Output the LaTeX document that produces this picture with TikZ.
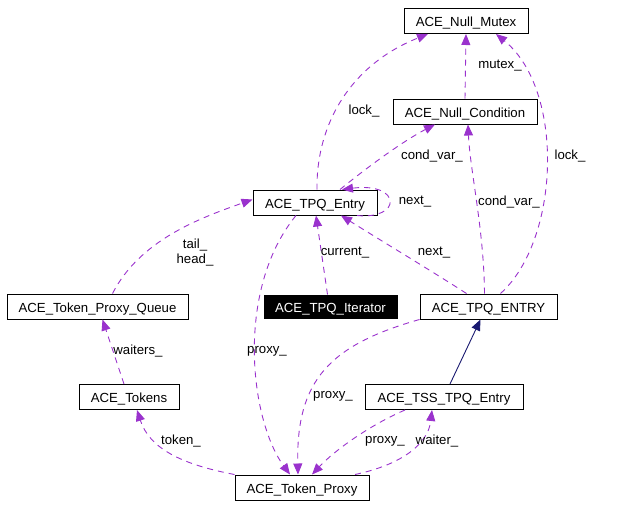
\documentclass[tikz,border=0pt]{standalone}
\usepackage{fontspec}
\setmainfont{Liberation Sans}
\usetikzlibrary{arrows.meta}
\definecolor{edgepurple}{HTML}{9A32CD}
\definecolor{inhnavy}{HTML}{191970}
\begin{document}
\begin{tikzpicture}[x=1pt,y=-1pt,
  box/.style={draw=black,line width=1pt,minimum height=25pt,inner sep=0pt,text height=13pt,text depth=1.6pt,font=\fontsize{13.2}{15}\selectfont},
  blackbox/.style={box,fill=black,text=white},
  uses/.style={draw=edgepurple,line width=0.9pt,dash pattern=on 6pt off 5pt,-{Triangle[length=11pt,width=9pt,fill=edgepurple]}},
  inherit/.style={draw=inhnavy,line width=0.9pt,-{Triangle[length=11pt,width=9pt,fill=inhnavy]}},
  lbl/.style={font=\fontsize{13.2}{15}\selectfont,inner sep=0pt,align=center}]
\useasboundingbox (0,0) rectangle (620,507);
\node[box,minimum width=124pt] (mutex) at (466,21) {ACE\_Null\_Mutex};
\node[box,minimum width=144pt] (cond) at (465,111.5) {ACE\_Null\_Condition};
\node[box,minimum width=124pt] (entry) at (315,202.5) {ACE\_TPQ\_Entry};
\node[box,minimum width=181pt] (queue) at (97.5,306.5) {ACE\_Token\_Proxy\_Queue};
\node[blackbox,minimum width=133pt,minimum height=23pt] (iter) at (330.5,306.5) {ACE\_TPQ\_Iterator};
\node[box,minimum width=137pt] (ENTRY) at (488.5,306.5) {ACE\_TPQ\_ENTRY};
\node[box,minimum width=100pt] (tokens) at (129,397) {ACE\_Tokens};
\node[box,minimum width=158pt] (tss) at (444,397) {ACE\_TSS\_TPQ\_Entry};
\node[box,minimum width=134pt] (proxy) at (302,487.5) {ACE\_Token\_Proxy};

% lock_ (entry -> mutex)
\draw[uses] ([xshift=2pt]entry.north) .. controls (316,125) and (350,65) .. ([xshift=-38pt]mutex.south);
\node[lbl] (l1) at (364,111) {lock\_};
% mutex_
\draw[uses] (cond.north) -- (mutex.south);
\node[lbl] (l2) at (500,66) {mutex\_};
% cond_var_ (entry -> cond)
\draw[uses] ([xshift=25pt]entry.north) .. controls (370,165) and (405,140) .. ([xshift=-30pt]cond.south);
\node[lbl] (l3) at (432,156) {cond\_var\_};
% self loop next_
\draw[uses] ([xshift=42pt]entry.south) .. controls (402,220) and (402,182) .. ([xshift=27pt]entry.north);
\node[lbl] (l4) at (415,202) {next\_};
% next_ (ENTRY -> entry)
\draw[uses] ([xshift=-22pt]ENTRY.north) .. controls (430,270) and (380,240) .. ([xshift=26pt]entry.south);
\node[lbl] (l5) at (434,253) {next\_};
% cond_var_ (ENTRY -> cond)
\draw[uses] ([xshift=-4pt]ENTRY.north) .. controls (484,230) and (470,170) .. ([xshift=3pt]cond.south);
\node[lbl] (l6) at (509,202) {cond\_var\_};
% lock_ (ENTRY -> mutex)
\draw[uses] ([xshift=12pt]ENTRY.north) .. controls (560,240) and (565,90) .. ([xshift=30pt]mutex.south);
\node[lbl] (l7) at (570,156) {lock\_};
% tail_ head_
\draw[uses] ([xshift=15pt]queue.north) .. controls (140,240) and (200,218) .. ([yshift=3pt]entry.west);
\node[lbl] (l8) at (195,253) {tail\_\\head\_};
% current_
\draw[uses] ([xshift=-3pt]iter.north) -- ([xshift=1pt]entry.south);
\node[lbl] (l9) at (345,253) {current\_};
% proxy_ (entry -> proxy)
\draw[uses] ([xshift=-19pt]entry.south) .. controls (235,290) and (250,420) .. ([xshift=-12pt]proxy.north);
\node[lbl] (l10) at (267,351) {proxy\_};
% proxy_ (ENTRY -> proxy)
\draw[uses] (ENTRY.south west) .. controls (330,345) and (296,380) .. ([xshift=-4pt]proxy.north);
\node[lbl] (l11) at (333,396) {proxy\_};
% waiters_
\draw[uses] ([xshift=-5pt]tokens.north) -- ([xshift=5pt]queue.south);
\node[lbl] (l12) at (138,351) {waiters\_};
% token_
\draw[uses] (proxy.north west) .. controls (185,465) and (150,450) .. ([xshift=8pt]tokens.south);
\node[lbl] (l13) at (181,441) {token\_};
% proxy_ (tss -> proxy)
\draw[uses] ([xshift=-39pt]tss.south) .. controls (370,425) and (335,450) .. ([xshift=10pt]proxy.north);
\node[lbl] (l14) at (385,441) {proxy\_};
% waiter_
\draw[uses] ([xshift=53pt]proxy.north) .. controls (400,465) and (428,445) .. ([xshift=-12pt]tss.south);
\node[lbl] (l15) at (437,441) {waiter\_};
% inheritance
\draw[inherit] ([xshift=6pt]tss.north) -- ([xshift=-8pt]ENTRY.south);
\end{tikzpicture}
\end{document}
